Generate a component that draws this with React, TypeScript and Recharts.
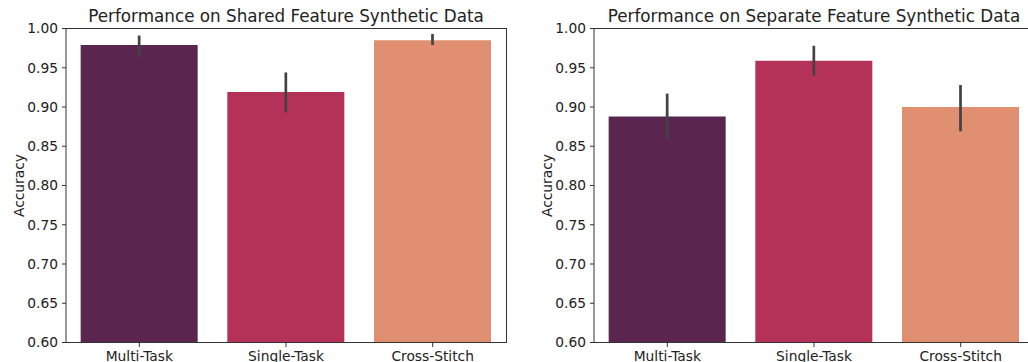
import React from 'react';
import { BarChart, Bar, XAxis, YAxis, ErrorBar, Cell } from 'recharts';

const categories = ['Multi-Task', 'Single-Task', 'Cross-Stitch'];

// mean accuracy with the bootstrap interval bounds for each model
const sharedAccuracy = [0.979, 0.919, 0.985];
const sharedLow = [0.964, 0.893, 0.979];
const sharedHigh = [0.991, 0.944, 0.993];

const separateAccuracy = [0.888, 0.959, 0.9];
const separateLow = [0.859, 0.94, 0.869];
const separateHigh = [0.917, 0.978, 0.928];

const yTicks = [0.6, 0.65, 0.7, 0.75, 0.8, 0.85, 0.9, 0.95, 1.0];
const barColors = ['#5A264F', '#B43157', '#E08F70'];

const FONT = '"DejaVu Sans", sans-serif';
const SPINE = '#333';
const TEXT = '#222';

// plot box inside each 520px panel
const PLOT = { left: 66, top: 28.5, width: 440, height: 314 };

function buildRows(mean: number[], low: number[], high: number[]) {
  return categories.map((name, i) => ({
    name,
    accuracy: mean[i],
    ci: [mean[i] - low[i], high[i] - mean[i]],
  }));
}

function AccuracyLabel({ viewBox }: any) {
  const x = viewBox.x + 11;
  const y = viewBox.y + viewBox.height / 2;
  return (
    <text
      x={x}
      y={y}
      transform={`rotate(-90 ${x} ${y})`}
      textAnchor="middle"
      dominantBaseline="central"
      fill={TEXT}
      fontSize={13.8}
      fontFamily={FONT}
    >
      Accuracy
    </text>
  );
}

function AccuracyPanel({ title, rows, left }: { title: string; rows: any[]; left: number }) {
  return (
    <div style={{ position: 'absolute', left, top: 0, width: 520, height: 362 }}>
      <div
        style={{
          position: 'absolute', left: PLOT.left - 20, width: PLOT.width + 40, top: 5.5, textAlign: 'center',
          fontFamily: FONT, fontSize: 16.8, color: TEXT, whiteSpace: 'nowrap',
        }}
      >
        {title}
      </div>
      <BarChart
        width={520}
        height={362}
        data={rows}
        margin={{ top: PLOT.top, right: 520 - PLOT.left - PLOT.width, left: 8, bottom: 0 }}
        barCategoryGap="10%"
      >
        <XAxis
          dataKey="name"
          height={19.5}
          tickSize={4.5}
          tickMargin={4}
          stroke={SPINE}
          tick={{ fill: TEXT, fontSize: 13.8, fontFamily: FONT }}
        />
        <YAxis
          domain={[0.6, 1.0]}
          ticks={yTicks}
          width={58}
          tickSize={4}
          tickMargin={4}
          stroke={SPINE}
          allowDataOverflow
          tickFormatter={(v: number) => v.toFixed(2)}
          tick={{ fill: TEXT, fontSize: 13.8, fontFamily: FONT }}
          label={<AccuracyLabel />}
        />
        <Bar dataKey="accuracy" isAnimationActive={false}>
          {rows.map((r, i) => (
            <Cell key={r.name} fill={barColors[i]} />
          ))}
          <ErrorBar dataKey="ci" width={0} stroke="#424242" strokeWidth={2.7} direction="y" isAnimationActive={false} />
        </Bar>
      </BarChart>
      {/* top and right spines of the axes box */}
      <div
        style={{
          position: 'absolute', left: PLOT.left, top: PLOT.top - 0.5, width: PLOT.width, height: PLOT.height,
          borderTop: `1px solid ${SPINE}`, borderRight: `1px solid ${SPINE}`,
          boxSizing: 'content-box', pointerEvents: 'none',
        }}
      />
    </div>
  );
}

export default function App() {
  return (
    <div
      style={{
        position: 'fixed', left: 0, top: 0, width: 1028, height: 362,
        overflow: 'hidden', background: '#fff',
      }}
    >
      <AccuracyPanel
        title="Performance on Shared Feature Synthetic Data"
        rows={buildRows(sharedAccuracy, sharedLow, sharedHigh)}
        left={0}
      />
      <AccuracyPanel
        title="Performance on Separate Feature Synthetic Data"
        rows={buildRows(separateAccuracy, separateLow, separateHigh)}
        left={528}
      />
    </div>
  );
}
